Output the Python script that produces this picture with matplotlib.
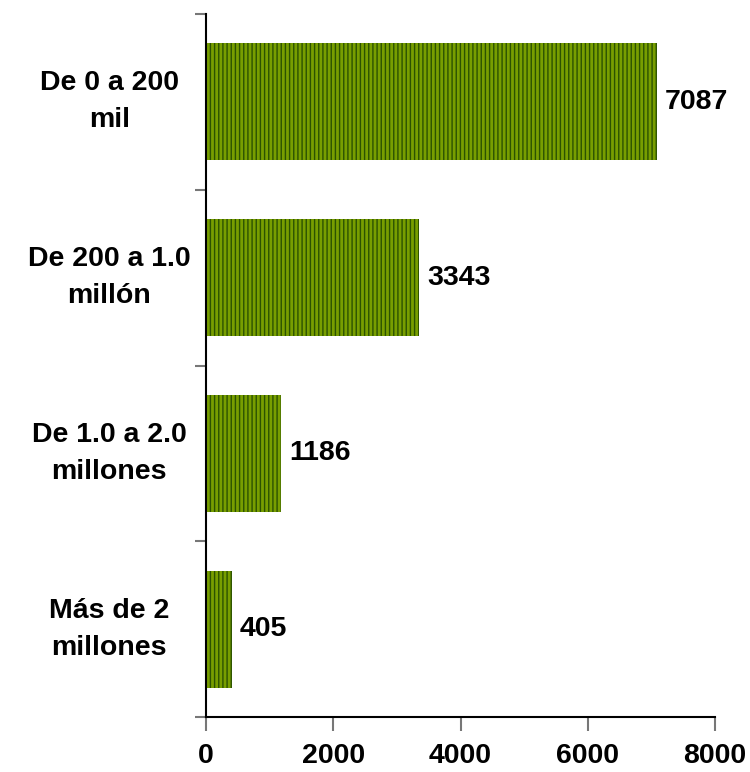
import matplotlib
matplotlib.use("Agg")
import matplotlib.pyplot as plt

categories = ["De 0 a 200\nmil", "De 200 a 1.0\nmillón", "De 1.0 a 2.0\nmillones", "Más de 2\nmillones"]
values = [7087, 3343, 1186, 405]
xticks = [0, 2000, 4000, 6000, 8000]

plt.rcParams['font.family'] = ['Liberation Sans', 'DejaVu Sans']
plt.rcParams['hatch.linewidth'] = 1.0

fig = plt.figure(figsize=(7.5, 7.72), dpi=100)
ax = fig.add_axes([0.2747, 0.0712, 0.6786, 0.9107])

pos = list(range(len(categories)))
ax.barh(pos, values, height=0.666, color='#789e00', edgecolor='#2b5200',
        linewidth=0, hatch='||||')

for p, v in zip(pos, values):
    ax.text(v + 130, p, str(v), va='center', ha='left', fontsize=20.5, fontweight='bold')

# category labels, centred in the left margin
for p, c in zip(pos, categories):
    ax.text(-0.19, p, c, transform=ax.get_yaxis_transform(), ha='center', va='center',
            fontsize=20.5, fontweight='bold', multialignment='center', linespacing=1.55)

ax.set_xlim(0, 8000)
ax.set_ylim(len(categories) - 0.5, -0.5)
ax.set_xticks(xticks)
ax.set_xticklabels([str(t) for t in xticks], fontsize=20.5, fontweight='bold')

ax.set_yticks([i - 0.5 for i in range(len(categories) + 1)])
ax.set_yticklabels([])
ax.tick_params(axis='y', length=8, width=1.5, color='#777777', direction='out')
ax.tick_params(axis='x', length=10, width=1.5, color='#777777', direction='out', pad=9)

for s in ['top', 'right']:
    ax.spines[s].set_visible(False)
ax.spines['left'].set_linewidth(1.5)
ax.spines['bottom'].set_linewidth(1.5)

fig.savefig("out.png", dpi=100)
